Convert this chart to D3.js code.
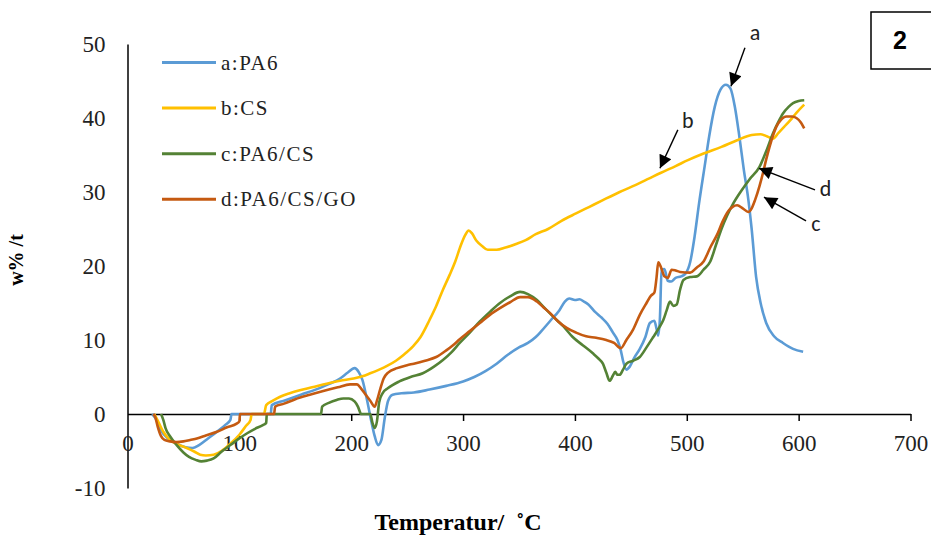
<!DOCTYPE html>
<html>
<head>
<meta charset="utf-8">
<script src="https://cdn.jsdelivr.net/npm/d3@7"></script>
<style>
  html, body { margin: 0; padding: 0; background: #fff; }
  svg { display: block; }
</style>
</head>
<body>
<svg id="chart" width="931" height="542"></svg>
<script>
// Temperature (°C) / w%/t pairs
const seriesPA6 = [[22,0],[26,-0.8],[30,-2.2],[36,-3.3],[45,-4.1],[52,-4.5],[58,-4.6],[64,-4.2],[72,-3.3],[80,-2.4],[88,-1.4],[92,-0.8],[93,0],[128,0],[129,1.2],[140,1.8],[155,2.6],[170,3.4],[181,4.1],[190,4.8],[197,5.6],[203,6.2],[207,5.6],[210,4.6],[214,2.0],[218,-1],[221,-3],[224,-4.2],[227,-3.5],[230,-0.5],[233,1.8],[237,2.6],[245,2.8],[256,2.9],[270,3.3],[285,3.8],[300,4.4],[310,5.0],[320,5.8],[330,6.8],[340,8.0],[350,9.0],[358,9.6],[365,10.4],[370,11.2],[378,12.6],[386,14.0],[391,15.2],[395,15.6],[400,15.4],[404,15.5],[408,15.2],[412,14.8],[418,13.8],[424,13.0],[429,12.2],[434,11.0],[438,10.0],[441,8.6],[443,7.2],[446,6.0],[449,6.4],[453,7.6],[458,8.8],[463,10.4],[467,12.3],[471,12.6],[473,11.5],[474.5,10.6],[476,13],[477.5,19.5],[480,19.6],[483,18],[486,17.9],[490,18.4],[495,18.6],[499,19.0],[503,20.5],[507,24],[511,28.5],[516,33.5],[520,37.5],[525,41.5],[530,43.8],[535,44.5],[539,44],[543,41.5],[547,37.5],[551,33],[555,29],[558,25],[562,18.5],[566,15],[571,12.3],[578,10.5],[586,9.6],[595,8.8],[604,8.4]];

const seriesCS = [[24,0],[28,-1.2],[32,-2.4],[38,-3.5],[45,-4.1],[53,-4.6],[60,-5.1],[65,-5.5],[70,-5.6],[77,-5.5],[84,-5.0],[92,-4.0],[100,-2.8],[106,-1.6],[110,-0.8],[111,0],[122,0],[124,1.2],[130,1.8],[136,2.3],[145,2.8],[154,3.2],[165,3.6],[178,4.1],[190,4.5],[202,4.8],[210,5.1],[217,5.5],[225,6.0],[232,6.5],[240,7.2],[247,8.0],[255,9.1],[262,10.4],[270,12.7],[276,14.6],[282,16.8],[288,18.8],[293,20.6],[298,22.8],[302,24.2],[305,24.8],[308,24.4],[312,23.4],[317,22.7],[322,22.2],[330,22.2],[338,22.5],[348,23.0],[356,23.5],[365,24.3],[376,25.0],[388,26.1],[401,27.1],[413,28.0],[425,28.9],[440,30.0],[455,31.0],[466,31.8],[477,32.6],[490,33.5],[501,34.3],[515,35.2],[531,36.1],[545,37.0],[558,37.7],[566,37.8],[572,37.5],[577,37.2],[582,38.0],[587,38.8],[592,39.6],[598,40.7],[605,41.8]];

const seriesPA6CS = [[30,0],[32,-0.8],[34,-1.9],[38,-3.0],[44,-4.2],[50,-5.2],[55,-5.8],[61,-6.2],[66,-6.4],[71,-6.3],[77,-6.0],[84,-5.1],[92,-4.2],[99,-3.4],[107,-2.6],[114,-2.0],[121,-1.5],[124,-1.2],[124.5,0],[173,0],[174,1.0],[180,1.5],[187,1.9],[193,2.1],[198,2.1],[203,1.7],[206,1.0],[208,0.2],[208.5,0],[217,0],[219,-1.2],[221,-1.9],[223,-1.0],[225,1.6],[228,2.8],[233,3.5],[243,4.4],[253,5.0],[264,5.5],[274,6.4],[282,7.3],[290,8.4],[297,9.6],[306,11.0],[315,12.5],[324,13.8],[333,15.0],[342,15.9],[351,16.5],[358,16.2],[366,15.4],[373,14.3],[381,13.1],[390,11.8],[398,10.4],[407,9.3],[416,8.2],[421,7.5],[425,6.8],[428,5.6],[431,4.5],[434,5.2],[436,5.7],[438,5.3],[440,5.3],[443,6.0],[446,6.8],[452,7.2],[458,7.7],[464,9.0],[470,10.4],[475,11.6],[479,12.7],[482,14.0],[485,15.2],[488,14.6],[491,14.8],[494,16.8],[497,18.1],[503,18.5],[509,18.6],[515,19.5],[521,20.6],[526,22.8],[531,25.0],[536,26.8],[541,28.3],[548,30.0],[556,31.7],[565,33.4],[571,35.5],[577,37.9],[582,39.5],[586,40.6],[591,41.5],[595,42.0],[600,42.3],[605,42.4]];

const seriesPA6CSGO = [[23,0],[25,-0.5],[27,-1.7],[30,-3.0],[33,-3.5],[38,-3.7],[44,-3.8],[50,-3.7],[56,-3.5],[62,-3.3],[70,-2.9],[80,-2.4],[89,-1.8],[97.6,-1.3],[100,-1.0],[100.6,0],[131,0],[132,1.0],[140,1.4],[150,2.0],[163,2.6],[175,3.1],[188,3.6],[199,4.0],[205,4.0],[209,3.4],[213,2.6],[217,1.8],[221,1.0],[223,1.8],[226,3.4],[229,4.8],[233,5.6],[241,6.2],[250,6.6],[256,6.8],[266,7.2],[276,7.7],[285,8.6],[291,9.3],[297,10.1],[306,11.2],[315,12.3],[324,13.4],[333,14.3],[342,15.1],[351,15.8],[358,15.8],[366,15.2],[372,14.4],[378,13.6],[385,12.5],[393,11.6],[401,11.0],[410,10.5],[419,10.3],[428,10.0],[435,9.6],[441,8.9],[446,10.0],[452,11.4],[458,13.4],[464,15.0],[468,16.0],[471,16.4],[473,18.5],[474.5,20.5],[477,19.8],[480,18.6],[483,18.4],[486.5,19.5],[490,19.4],[494,19.2],[503,19.1],[509,19.8],[515,20.6],[521,22.5],[527,24.2],[532,26.0],[537,27.4],[541,28.0],[545,28.2],[550,27.8],[555,27.3],[558,27.8],[561,28.9],[565,30.8],[568,32.5],[571,34.4],[574,36.1],[577,37.6],[580,38.8],[584,39.7],[589,40.2],[594,40.2],[598,40.0],[602,39.4],[605,38.6]];

const seriesNames = ["a:PA6", "b:CS", "c:PA6/CS", "d:PA6/CS/GO"];
const seriesColors = ["#5B9BD5", "#FFC000", "#548235", "#C55A11"];
const xTicks = [0, 100, 200, 300, 400, 500, 600, 700];
const yTicks = [-10, 0, 10, 20, 30, 40, 50];

// annotation letters: label position, arrow start, arrow tip (data units)
const callouts = [
  { text: "a", label: [561, 51.6], from: [552, 49.5], to: [539.5, 44.3] },
  { text: "b", label: [501, 39.7], from: [492, 38.4], to: [476, 33.2] },
  { text: "d", label: [624, 30.5], from: [614.6, 30.3], to: [564.5, 33.2] },
  { text: "c", label: [615.5, 25.8], from: [606.6, 26.1], to: [569, 29.3] }
];

const svg = d3.select("#chart");
const x = d3.scaleLinear().domain([0, 700]).range([127.5, 910.5]);
const y = d3.scaleLinear().domain([-10, 50]).range([488, 44]);

const serif = "'Liberation Serif', 'Times New Roman', serif";
const sans = "Carlito, 'Liberation Sans', Arial, sans-serif";

svg.append("defs").append("marker")
    .attr("id", "arrow")
    .attr("viewBox", "0 0 10 10")
    .attr("refX", 10).attr("refY", 5)
    .attr("markerUnits", "userSpaceOnUse")
    .attr("markerWidth", 15).attr("markerHeight", 13)
    .attr("orient", "auto")
    .append("path").attr("d", "M0,0 L10,5 L0,10 Z").attr("fill", "#000");

// y axis: line only, labels to the left
const yAxis = svg.append("g")
    .attr("transform", `translate(${x(0)},0)`)
    .call(d3.axisLeft(y).tickValues(yTicks).tickSize(0).tickPadding(22).tickFormat(d => String(d)));
yAxis.select(".domain").attr("stroke", "#000").attr("stroke-width", 1.5);
yAxis.selectAll("text")
    .attr("font-family", serif).attr("font-size", 23).attr("fill", "#222");

// x axis through zero
const xAxis = svg.append("g")
    .attr("transform", `translate(0,${y(0)})`)
    .call(d3.axisBottom(x).tickValues(xTicks).tickSizeInner(7).tickSizeOuter(0).tickPadding(14));
xAxis.select(".domain").attr("stroke", "#000").attr("stroke-width", 1.5);
xAxis.selectAll("line").attr("stroke", "#000").attr("stroke-width", 1.5);
xAxis.selectAll(".tick").filter(d => d === 0).select("line").remove();
xAxis.selectAll("text")
    .attr("font-family", serif).attr("font-size", 23).attr("fill", "#222");

// curves
const line = d3.line().x(d => x(d[0])).y(d => y(d[1])).curve(d3.curveMonotoneX);
const allSeries = [seriesPA6, seriesCS, seriesPA6CS, seriesPA6CSGO];
svg.append("g").selectAll("path")
    .data(allSeries)
    .join("path")
    .attr("d", line)
    .attr("fill", "none")
    .attr("stroke", (d, i) => seriesColors[i])
    .attr("stroke-width", 2.6)
    .attr("stroke-linejoin", "round");

// legend
const legend = svg.append("g").selectAll("g")
    .data(seriesNames)
    .join("g")
    .attr("transform", (d, i) => `translate(162,${62.5 + i * 45.6})`);
legend.append("line")
    .attr("x1", 0).attr("x2", 54)
    .attr("stroke", (d, i) => seriesColors[i])
    .attr("stroke-width", 3);
legend.append("text")
    .attr("x", 59).attr("y", 7)
    .attr("font-family", serif).attr("font-size", 21)
    .attr("letter-spacing", 1.5)
    .attr("fill", "#222")
    .text(d => d);

// callout arrows
const notes = svg.append("g").selectAll("g").data(callouts).join("g");
notes.append("line")
    .attr("x1", d => x(d.from[0])).attr("y1", d => y(d.from[1]))
    .attr("x2", d => x(d.to[0])).attr("y2", d => y(d.to[1]))
    .attr("stroke", "#000").attr("stroke-width", 1.4)
    .attr("marker-end", "url(#arrow)");
notes.append("text")
    .attr("x", d => x(d.label[0])).attr("y", d => y(d.label[1]))
    .attr("text-anchor", "middle").attr("dominant-baseline", "central")
    .attr("font-family", sans).attr("font-size", 22).attr("fill", "#222")
    .text(d => d.text);

// panel number box
svg.append("rect")
    .attr("x", 871).attr("y", 12).attr("width", 70).attr("height", 57)
    .attr("fill", "none").attr("stroke", "#000").attr("stroke-width", 1.5);
svg.append("text")
    .attr("x", 900).attr("y", 40)
    .attr("text-anchor", "middle").attr("dominant-baseline", "central")
    .attr("font-family", "'Liberation Sans', Arial, sans-serif")
    .attr("font-weight", "bold").attr("font-size", 25)
    .text("2");

// axis titles
svg.append("text")
    .attr("x", 458).attr("y", 530)
    .attr("text-anchor", "middle")
    .attr("font-family", serif).attr("font-weight", "bold").attr("font-size", 24)
    .style("white-space", "pre")
    .text("Temperatur/  \u02DAC");
svg.append("text")
    .attr("transform", "translate(23,260) rotate(-90)")
    .attr("text-anchor", "middle")
    .attr("font-family", serif).attr("font-weight", "bold").attr("font-size", 20)
    .text("w% /t");
</script>
</body>
</html>
